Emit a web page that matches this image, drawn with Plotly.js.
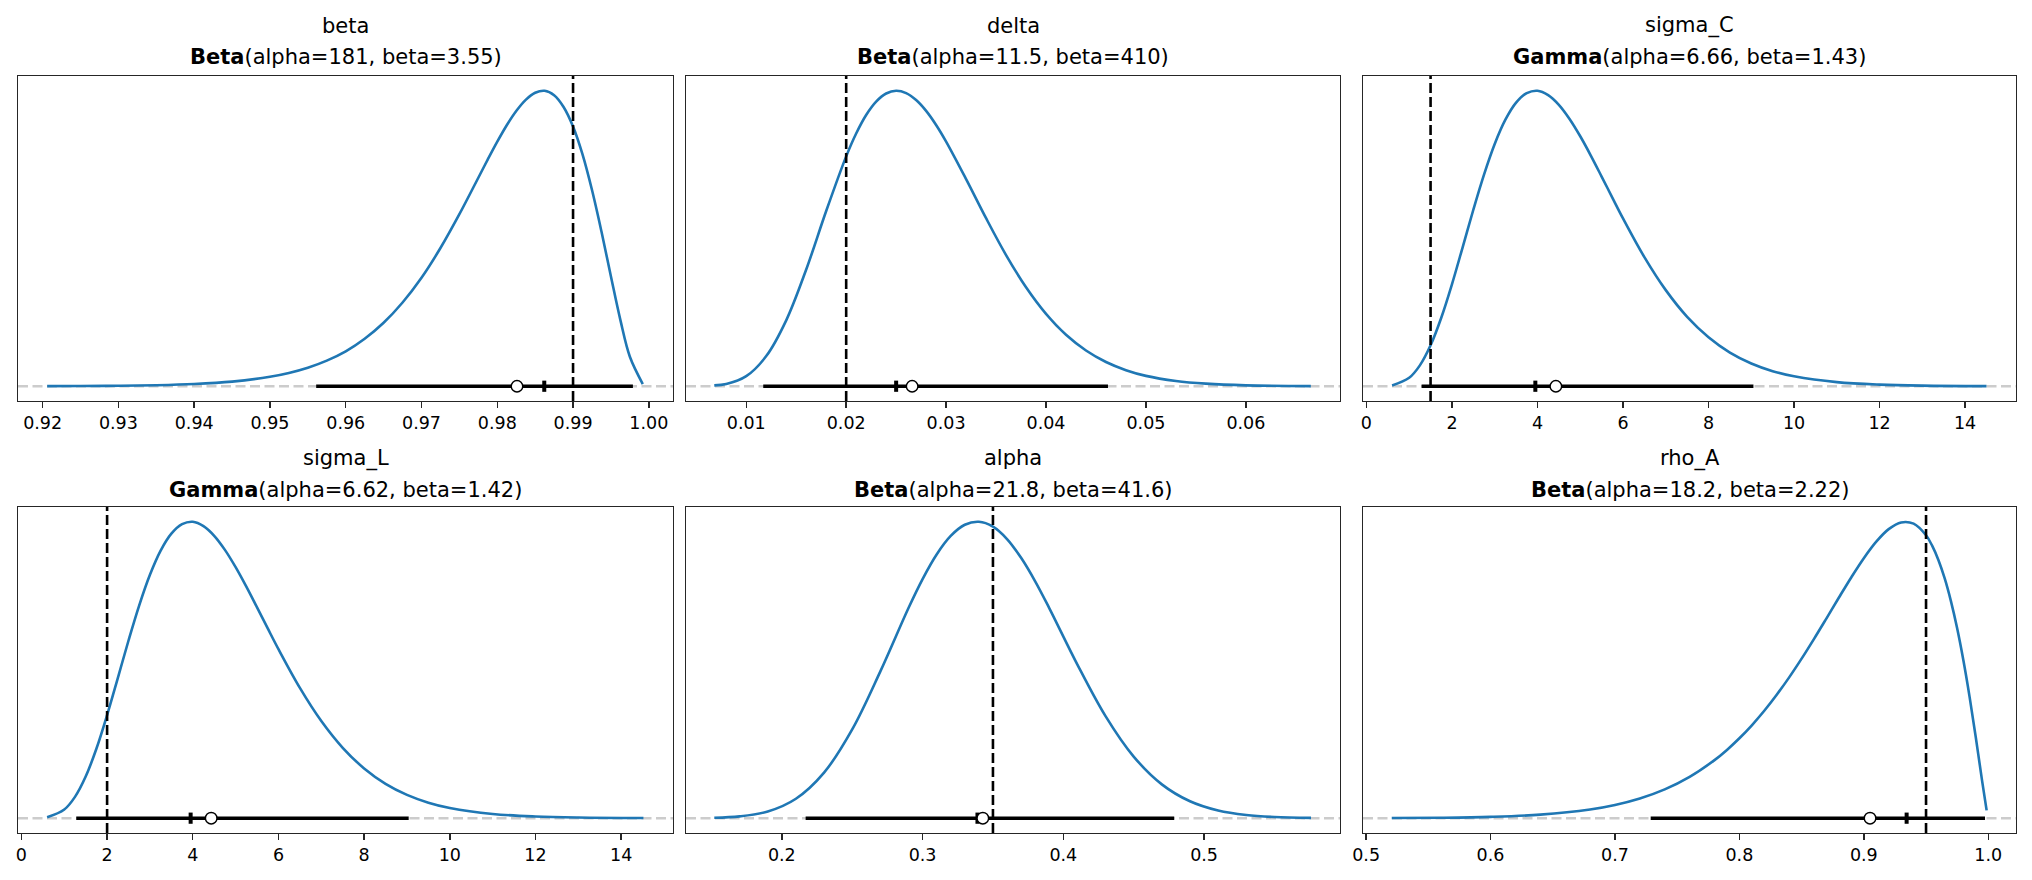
<!DOCTYPE html>
<html>
<head>
<meta charset="utf-8">
<script src="https://cdn.plot.ly/plotly-3.0.1.min.js"></script>
<style>
html, body { margin: 0; padding: 0; background: #ffffff; }
#chart { width: 2032px; height: 880px; }
</style>
</head>
<body>
<div id="chart"></div>
<script>
// ---------- data ----------
const paramNames = ["beta", "delta", "sigma_C", "sigma_L", "alpha", "rho_A"];
const distNames = ["Beta", "Beta", "Gamma", "Gamma", "Beta", "Beta"];
const distArgs = [
  "(alpha=181, beta=3.55)",
  "(alpha=11.5, beta=410)",
  "(alpha=6.66, beta=1.43)",
  "(alpha=6.62, beta=1.42)",
  "(alpha=21.8, beta=41.6)",
  "(alpha=18.2, beta=2.22)"
];
const trueValues = [0.99, 0.02, 1.5, 2.0, 0.35, 0.95];
const hdiLow  = [0.9561, 0.0117, 1.29, 1.28, 0.2169, 0.7287];
const hdiHigh = [0.9979, 0.0462, 9.05, 9.04, 0.4788, 0.9974];
const modeValues   = [0.9862, 0.0250, 3.95, 3.95, 0.339, 0.9344];
const medianValues = [0.9826, 0.0266, 4.43, 4.43, 0.3428, 0.905];

// density curves (relative height, peak = 1)
const betaX = [0.9206, 0.925, 0.93, 0.935, 0.94, 0.945, 0.95, 0.9525, 0.955, 0.9575, 0.96, 0.9625, 0.965, 0.9675, 0.97, 0.9725, 0.975, 0.9775, 0.97875, 0.98, 0.98125, 0.9825, 0.98375, 0.985, 0.98625, 0.9875, 0.98875, 0.99, 0.99125, 0.9925, 0.99375, 0.995, 0.99625, 0.9975, 0.9992];
const betaY = [0.0005, 0.0007, 0.0016, 0.0035, 0.0075, 0.0157, 0.0318, 0.0448, 0.0625, 0.0865, 0.118, 0.1606, 0.2147, 0.2833, 0.367, 0.4677, 0.5822, 0.7057, 0.7677, 0.8276, 0.8832, 0.9314, 0.9693, 0.9933, 1.0, 0.985, 0.9452, 0.879, 0.7846, 0.664, 0.5235, 0.3715, 0.2237, 0.0996, 0.0074];

const deltaX = [0.0068, 0.008, 0.010, 0.012, 0.014, 0.016, 0.018, 0.020, 0.021, 0.022, 0.023, 0.024, 0.025, 0.026, 0.027, 0.028, 0.029, 0.030, 0.032, 0.034, 0.036, 0.038, 0.040, 0.042, 0.044, 0.046, 0.048, 0.050, 0.053, 0.056, 0.060, 0.0665];
const deltaY = [0.003, 0.0075, 0.034, 0.102, 0.223, 0.395, 0.593, 0.778, 0.8554, 0.918, 0.9633, 0.9907, 1.0, 0.9922, 0.9687, 0.932, 0.8843, 0.828, 0.701, 0.5687, 0.444, 0.335, 0.245, 0.174, 0.1208, 0.0819, 0.0543, 0.035, 0.0178, 0.0087, 0.003, 0.0005];

const sigmaCX = [0.6, 1.0, 1.25, 1.5, 1.75, 2.0, 2.25, 2.5, 2.75, 3.0, 3.25, 3.5, 3.75, 4.0, 4.25, 4.5, 4.75, 5.0, 5.25, 5.5, 5.75, 6.0, 6.5, 7.0, 7.5, 8.0, 8.5, 9.0, 9.5, 10.0, 11.0, 12.0, 13.0, 14.5];
const sigmaCY = [0.0028, 0.0285, 0.0706, 0.1385, 0.2318, 0.345, 0.4703, 0.5973, 0.7163, 0.8199, 0.902, 0.9597, 0.992, 1.0, 0.9854, 0.9525, 0.9047, 0.846, 0.78, 0.7097, 0.6384, 0.568, 0.437, 0.3253, 0.235, 0.166, 0.114, 0.077, 0.051, 0.0336, 0.0138, 0.0054, 0.002, 0.0004];

const sigmaLX = [0.6, 1.0, 1.25, 1.5, 1.75, 2.0, 2.25, 2.5, 2.75, 3.0, 3.25, 3.5, 3.75, 4.0, 4.25, 4.5, 4.75, 5.0, 5.25, 5.5, 5.75, 6.0, 6.5, 7.0, 7.5, 8.0, 8.5, 9.0, 9.5, 10.0, 11.0, 12.0, 13.0, 14.52];
const sigmaLY = [0.0029, 0.0292, 0.0719, 0.1405, 0.2343, 0.348, 0.4729, 0.5995, 0.7182, 0.8212, 0.9028, 0.960, 0.992, 1.0, 0.9855, 0.9528, 0.9053, 0.8469, 0.7812, 0.7113, 0.6403, 0.5703, 0.4397, 0.3279, 0.2376, 0.1679, 0.116, 0.0787, 0.0524, 0.0344, 0.0142, 0.0056, 0.0021, 0.0005];

const alphaX = [0.152, 0.17, 0.19, 0.21, 0.23, 0.25, 0.27, 0.29, 0.30, 0.31, 0.32, 0.33, 0.34, 0.35, 0.36, 0.37, 0.38, 0.39, 0.41, 0.43, 0.45, 0.47, 0.49, 0.51, 0.53, 0.55, 0.576];
const alphaY = [0.0014, 0.006, 0.0226, 0.0657, 0.1538, 0.2996, 0.4955, 0.7094, 0.807, 0.890, 0.9524, 0.990, 1.0, 0.9838, 0.942, 0.8785, 0.7993, 0.709, 0.5184, 0.3443, 0.2078, 0.1141, 0.057, 0.0258, 0.0106, 0.0039, 0.0009];

const rhoAX = [0.5206, 0.56, 0.60, 0.64, 0.68, 0.70, 0.72, 0.74, 0.76, 0.78, 0.79, 0.80, 0.81, 0.82, 0.83, 0.84, 0.85, 0.86, 0.87, 0.88, 0.89, 0.90, 0.91, 0.92, 0.93, 0.94, 0.95, 0.955, 0.96, 0.965, 0.97, 0.975, 0.98, 0.985, 0.99, 0.995, 0.9987];
const rhoAY = [0.0005, 0.0015, 0.0045, 0.0119, 0.0292, 0.0445, 0.0664, 0.0971, 0.1394, 0.1959, 0.2304, 0.2696, 0.3135, 0.3624, 0.4164, 0.4751, 0.5383, 0.6051, 0.6744, 0.7446, 0.8132, 0.8773, 0.933, 0.9753, 0.998, 0.9938, 0.9545, 0.9187, 0.8705, 0.8088, 0.7324, 0.6406, 0.5328, 0.4094, 0.2723, 0.1275, 0.0263];

const curveX = [betaX, deltaX, sigmaCX, sigmaLX, alphaX, rhoAX];
const curveY = [betaY, deltaY, sigmaCY, sigmaLY, alphaY, rhoAY];

// axis ticks
const tickSteps = [0.01, 0.01, 2, 2, 0.1, 0.1];
const tickFormats = [".2f", ".2f", "d", "d", ".1f", ".1f"];

// ---------- layout geometry ----------
const W = 2032, H = 880;
const colPx = [[18, 673], [686, 1340], [1363, 2016]];
const rowPx = [[76, 401], [507, 833]];
const xRanges = [[0.91675, 1.00319], [0.00397, 0.06942], [-0.08, 15.19], [-0.08, 15.21], [0.1319, 0.5966], [0.4975, 1.0223]];
const titleLine1Px = [26, 458];
const titleLine2Px = [57, 489.5];

const FONT = "DejaVu Sans, Liberation Sans, sans-serif";
const C0 = "#1f77b4";

const traces = [];
const shapes = [];
const annotations = [];
const layout = {
  width: W, height: H,
  margin: {l: 0, r: 0, t: 0, b: 0, pad: 0},
  paper_bgcolor: "#ffffff",
  plot_bgcolor: "#ffffff",
  showlegend: false,
  font: {family: FONT, color: "#000000", size: 17.5}
};

for (let i = 0; i < 6; i++) {
  const row = Math.floor(i / 3), col = i % 3;
  const sfx = i === 0 ? "" : String(i + 1);
  const xa = "x" + sfx, ya = "y" + sfx;

  layout["xaxis" + sfx] = {
    domain: [colPx[col][0] / W, colPx[col][1] / W],
    anchor: ya,
    range: xRanges[i],
    tick0: 0,
    dtick: tickSteps[i],
    tickformat: tickFormats[i],
    ticks: "outside",
    ticklen: 6,
    tickwidth: 1.4,
    tickcolor: "#262626",
    showline: true,
    mirror: true,
    linecolor: "#262626",
    linewidth: 1.4,
    showgrid: false,
    zeroline: false,
    tickfont: {family: FONT, size: 17.5, color: "#000000"},
    fixedrange: true
  };
  layout["yaxis" + sfx] = {
    domain: [1 - rowPx[row][1] / H, 1 - rowPx[row][0] / H],
    anchor: xa,
    range: [-0.05, 1.05],
    showticklabels: false,
    ticks: "",
    showline: true,
    mirror: true,
    linecolor: "#262626",
    linewidth: 1.4,
    showgrid: false,
    zeroline: false,
    fixedrange: true
  };

  // grey dashed zero line across the axes
  shapes.push({
    type: "line", layer: "below",
    xref: xa + " domain", x0: 0, x1: 1,
    yref: ya, y0: 0, y1: 0,
    line: {color: "#cccccc", width: 2.6, dash: "10px,4.5px"}
  });
  // black dashed reference line
  shapes.push({
    type: "line", layer: "above",
    xref: xa, x0: trueValues[i], x1: trueValues[i],
    yref: ya + " domain", y0: 0, y1: 1,
    line: {color: "#000000", width: 2.6, dash: "10px,4px"}
  });

  // density curve
  traces.push({
    type: "scatter", mode: "lines",
    x: curveX[i], y: curveY[i],
    xaxis: xa, yaxis: ya,
    line: {color: C0, width: 2.6, shape: "spline", smoothing: 1},
    hoverinfo: "skip"
  });
  // HDI interval
  traces.push({
    type: "scatter", mode: "lines",
    x: [hdiLow[i], hdiHigh[i]], y: [0, 0],
    xaxis: xa, yaxis: ya,
    line: {color: "#000000", width: 3.6},
    hoverinfo: "skip"
  });
  // mode tick
  traces.push({
    type: "scatter", mode: "markers",
    x: [modeValues[i]], y: [0],
    xaxis: xa, yaxis: ya,
    marker: {symbol: "line-ns", size: 8, line: {color: "#000000", width: 4}},
    hoverinfo: "skip"
  });
  // median point
  traces.push({
    type: "scatter", mode: "markers",
    x: [medianValues[i]], y: [0],
    xaxis: xa, yaxis: ya,
    marker: {symbol: "circle", size: 11.5, color: "#ffffff", line: {color: "#000000", width: 1.4}},
    hoverinfo: "skip"
  });

  // titles
  annotations.push({
    xref: xa + " domain", x: 0.5, yref: "paper", y: 1 - titleLine1Px[row] / H,
    xanchor: "center", yanchor: "middle", showarrow: false,
    text: paramNames[i],
    font: {family: FONT, size: 21, color: "#000000"}
  });
  annotations.push({
    xref: xa + " domain", x: 0.5, yref: "paper", y: 1 - titleLine2Px[row] / H,
    xanchor: "center", yanchor: "middle", showarrow: false,
    text: "<b>" + distNames[i] + "</b>" + distArgs[i],
    font: {family: FONT, size: 21, color: "#000000"}
  });
}

layout.shapes = shapes;
layout.annotations = annotations;

Plotly.newPlot("chart", traces, layout, {staticPlot: true, displayModeBar: false});
</script>
</body>
</html>
